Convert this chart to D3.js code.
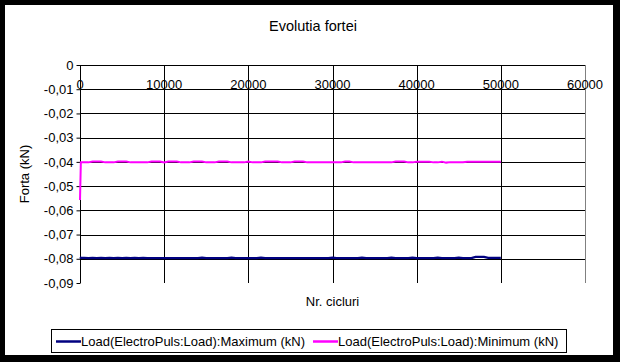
<!DOCTYPE html>
<html><head><meta charset="utf-8">
<script src="https://cdn.jsdelivr.net/npm/d3@7"></script>
<style>
html,body{margin:0;padding:0;background:#000;}
svg{display:block;}
text{font-family:"Liberation Sans",Arial,sans-serif;fill:#000;}
</style></head>
<body>
<script>
const title = "Evolutia fortei";
const xTitle = "Nr. cicluri";
const yTitle = "Forta (kN)";
const seriesNames = ["Load(ElectroPuls:Load):Maximum (kN)", "Load(ElectroPuls:Load):Minimum (kN)"];
const seriesColors = ["#000080", "#FF00FF"];
const xTicks = [0, 10000, 20000, 30000, 40000, 50000, 60000];
const yTicks = [0, -0.01, -0.02, -0.03, -0.04, -0.05, -0.06, -0.07, -0.08, -0.09];
const yTickLabels = ["0", "-0,01", "-0,02", "-0,03", "-0,04", "-0,05", "-0,06", "-0,07", "-0,08", "-0,09"];

const cycles = [0, 100,
 500, 1000, 1500, 2000, 2500, 3000, 3500, 4000, 4500, 5000,
 5500, 6000, 6500, 7000, 7500, 8000, 8500, 9000, 9500, 10000,
 10500, 11000, 11500, 12000, 12500, 13000, 13500, 14000, 14500, 15000,
 15500, 16000, 16500, 17000, 17500, 18000, 18500, 19000, 19500, 20000,
 20500, 21000, 21500, 22000, 22500, 23000, 23500, 24000, 24500, 25000,
 25500, 26000, 26500, 27000, 27500, 28000, 28500, 29000, 29500, 30000,
 30500, 31000, 31500, 32000, 32500, 33000, 33500, 34000, 34500, 35000,
 35500, 36000, 36500, 37000, 37500, 38000, 38500, 39000, 39500, 40000,
 40500, 41000, 41500, 42000, 42500, 43000, 43500, 44000, 44500, 45000,
 45500, 46000, 46500, 47000, 47500, 48000, 48500, 49000, 49500, 50000];

const maxForce = [-0.0793, -0.0796,
 -0.0796, -0.0797, -0.0796, -0.0797, -0.0796, -0.0797, -0.0796, -0.0797, -0.0796, -0.0797,
 -0.0796, -0.0797, -0.0796, -0.0797, -0.0796, -0.0797, -0.0797, -0.0797, -0.0797, -0.0797,
 -0.0797, -0.0797, -0.0797, -0.0797, -0.0797, -0.0797, -0.0797, -0.0797, -0.0795, -0.0797,
 -0.0797, -0.0797, -0.0797, -0.0797, -0.0797, -0.0795, -0.0797, -0.0797, -0.0797, -0.0797,
 -0.0797, -0.0797, -0.0795, -0.0797, -0.0797, -0.0797, -0.0797, -0.0797, -0.0797, -0.0797,
 -0.0797, -0.0797, -0.0797, -0.0797, -0.0797, -0.0797, -0.0797, -0.0797, -0.0797, -0.0795,
 -0.0797, -0.0797, -0.0797, -0.0797, -0.0797, -0.0797, -0.0795, -0.0797, -0.0797, -0.0797,
 -0.0797, -0.0797, -0.0797, -0.0795, -0.0797, -0.0797, -0.0797, -0.0797, -0.0795, -0.0797,
 -0.0797, -0.0797, -0.0797, -0.0797, -0.0795, -0.0797, -0.0797, -0.0797, -0.0797, -0.0795,
 -0.0797, -0.0797, -0.0797, -0.0792, -0.0792, -0.0792, -0.0796, -0.0796, -0.0796, -0.0796];

const minForce = [-0.0557, -0.0402,
 -0.0402, -0.0402, -0.0398, -0.0398, -0.0398, -0.0402, -0.0402, -0.0402, -0.0398, -0.0398,
 -0.0398, -0.0402, -0.0402, -0.0402, -0.0402, -0.0402, -0.0398, -0.0398, -0.0398, -0.0402,
 -0.0398, -0.0398, -0.0398, -0.0402, -0.0402, -0.0402, -0.0398, -0.0398, -0.0398, -0.0402,
 -0.0402, -0.0402, -0.0398, -0.0398, -0.0398, -0.0402, -0.0402, -0.0402, -0.0402, -0.0398,
 -0.0402, -0.0402, -0.0402, -0.0398, -0.0398, -0.0398, -0.0398, -0.0402, -0.0402, -0.0402,
 -0.0398, -0.0398, -0.0398, -0.0402, -0.0402, -0.0402, -0.0402, -0.0402, -0.0402, -0.0402,
 -0.0402, -0.0402, -0.0398, -0.0398, -0.0402, -0.0402, -0.0402, -0.0402, -0.0402, -0.0402,
 -0.0402, -0.0402, -0.0402, -0.0402, -0.0398, -0.0398, -0.0398, -0.0402, -0.0402, -0.0399,
 -0.0399, -0.0399, -0.0399, -0.0402, -0.0402, -0.0399, -0.0403, -0.0401, -0.0401, -0.0401,
 -0.0401, -0.0399, -0.0399, -0.0399, -0.0399, -0.0399, -0.0399, -0.0399, -0.0399, -0.0399];

const W = 620, H = 362;
const svg = d3.select("body").append("svg").attr("width", W).attr("height", H);
svg.append("rect").attr("x", 0).attr("y", 0).attr("width", W).attr("height", H).attr("fill", "#000");
svg.append("rect").attr("x", 5).attr("y", 5).attr("width", 608).attr("height", 350).attr("fill", "#fff");

const x = d3.scaleLinear().domain([0, 60000]).range([80, 585]);
const y = d3.scaleLinear().domain([0, -0.09]).range([65, 283]);

// title
svg.append("text").attr("x", 313).attr("y", 31).attr("text-anchor", "middle")
  .style("font-size", "14.5px").text(title);

// gridlines
const g = svg.append("g");
g.selectAll("line.h").data(yTicks.slice(0, -1)).enter().append("line")
  .attr("x1", x(0)).attr("x2", x(60000))
  .attr("y1", d => Math.round(y(d)) + 0.5).attr("y2", d => Math.round(y(d)) + 0.5)
  .attr("stroke", "#000").attr("stroke-width", 1);
g.selectAll("line.v").data(xTicks.slice(1, -1)).enter().append("line")
  .attr("x1", d => Math.round(x(d)) + 0.5).attr("x2", d => Math.round(x(d)) + 0.5)
  .attr("y1", y(0)).attr("y2", y(-0.09))
  .attr("stroke", "#000").attr("stroke-width", 1);
// right border
g.append("line").attr("x1", Math.round(x(60000)) + 0.5).attr("x2", Math.round(x(60000)) + 0.5)
  .attr("y1", y(0)).attr("y2", y(-0.09)).attr("stroke", "#808080");

// y axis
const yAxis = d3.axisLeft(y).tickValues(yTicks).tickSize(4).tickPadding(3)
  .tickFormat((d, i) => yTickLabels[i]);
const ya = svg.append("g").attr("transform", `translate(${Math.round(x(0)) + 0.5},0)`).call(yAxis);
ya.select(".domain").remove();
ya.append("line").attr("x1", 0).attr("x2", 0).attr("y1", y(0)).attr("y2", y(-0.09)).attr("stroke", "#000");
ya.selectAll(".tick line").attr("stroke", "#000");
ya.selectAll(".tick text").style("font-size", "13px").style("font-family", "Liberation Sans, Arial, sans-serif").attr("fill", "#000");

// x tick labels (placed at -0.01 line like the original)
svg.selectAll("text.xl").data(xTicks).enter().append("text")
  .attr("x", d => x(d)).attr("y", y(-0.01) - 0.5).attr("text-anchor", "middle")
  .style("font-size", "13px").text(d => d);

// axis titles
svg.append("text").attr("transform", `translate(29,${(y(0) + y(-0.09)) / 2}) rotate(-90)`)
  .attr("text-anchor", "middle").style("font-size", "13px").text(yTitle);
svg.append("text").attr("x", (x(0) + x(60000)) / 2).attr("y", 306).attr("text-anchor", "middle")
  .style("font-size", "13px").text(xTitle);

// lines
const mk = vals => d3.line().x((d, i) => x(cycles[i])).y(d => y(d))(vals);
svg.append("path").attr("d", mk(maxForce)).attr("fill", "none")
  .attr("stroke", seriesColors[0]).attr("stroke-width", 2.2);
svg.append("path").attr("d", mk(minForce)).attr("fill", "none")
  .attr("stroke", seriesColors[1]).attr("stroke-width", 2);

// legend
const lg = svg.append("g");
lg.append("rect").attr("x", 51.5).attr("y", 329.5).attr("width", 515).attr("height", 23)
  .attr("fill", "#fff").attr("stroke", "#000");
const legX = [56, 313];
seriesNames.forEach((n, i) => {
  lg.append("line").attr("x1", legX[i]).attr("x2", legX[i] + 25).attr("y1", 341.5).attr("y2", 341.5)
    .attr("stroke", seriesColors[i]).attr("stroke-width", 2.5);
  lg.append("text").attr("x", legX[i] + 25).attr("y", 346).style("font-size", "13px").text(n);
});
</script>
</body></html>
